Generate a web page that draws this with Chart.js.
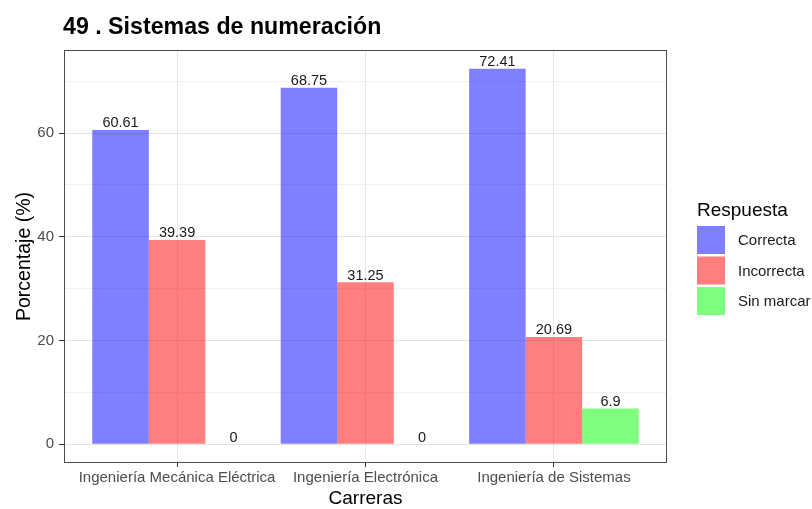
<!DOCTYPE html>
<html>
<head>
<meta charset="utf-8">
<script src="https://cdn.jsdelivr.net/npm/chart.js@4.4.1/dist/chart.umd.min.js"></script>
<style>
  body { margin: 0; background: #fff; }
  #wrap { width: 812px; height: 509px; }
</style>
</head>
<body>
<div id="wrap"><canvas id="chart" width="812" height="509"></canvas></div>
<script>
/* data */
const carreras = ['Ingeniería Mecánica Eléctrica', 'Ingeniería Electrónica', 'Ingeniería de Sistemas'];
const correcta = [60.61, 68.75, 72.41];
const incorrecta = [39.39, 31.25, 20.69];
const sinMarcar = [0, 0, 6.9];
const yTicks = [0, 10, 20, 30, 40, 50, 60, 70];

const FONT = "'Liberation Sans', Arial, sans-serif";

function points(values) {
    return values.map(function (v, i) { return { x: i + 1, y: v }; });
}

/* panel border, value labels, title and legend */
const extras = {
    id: 'extras',
    beforeDatasetsDraw: function (chart) {
        var a = chart.chartArea, ctx = chart.ctx;
        ctx.save();
        ctx.strokeStyle = '#4d4d4d';
        ctx.lineWidth = 1;
        ctx.strokeRect(a.left + 0.5, a.top + 0.5, a.right - a.left - 1, a.bottom - a.top - 1);
        ctx.restore();
    },
    afterDatasetsDraw: function (chart) {
        var ctx = chart.ctx;
        ctx.save();
        ctx.font = '14.5px ' + FONT;
        ctx.fillStyle = '#1a1a1a';
        ctx.textAlign = 'center';
        ctx.textBaseline = 'alphabetic';
        chart.data.datasets.forEach(function (ds, i) {
            chart.getDatasetMeta(i).data.forEach(function (bar, j) {
                ctx.fillText(String(ds.data[j].y), bar.x, bar.y - 2.5);
            });
        });

        // title
        var a = chart.chartArea;
        ctx.textAlign = 'left';
        ctx.fillStyle = '#000';
        ctx.font = 'bold 23.2px ' + FONT;
        ctx.fillText('49 . Sistemas de numeración', a.left - 1, 34);

        // legend
        ctx.font = '19px ' + FONT;
        ctx.fillText('Respuesta', 697, 216);
        ctx.font = '15px ' + FONT;
        ctx.textBaseline = 'middle';
        chart.data.datasets.forEach(function (ds, i) {
            var y = 226 + i * 30.5;
            ctx.fillStyle = ds.backgroundColor;
            ctx.fillRect(697, y, 28, 28);
            ctx.fillStyle = '#1a1a1a';
            ctx.fillText(ds.label, 738, y + 15);
        });
        ctx.restore();
    }
};

const ctx = document.getElementById('chart').getContext('2d');
const chart = new Chart(ctx, {
    type: 'bar',
    data: {
        datasets: [
            { label: 'Correcta', data: points(correcta), backgroundColor: 'rgba(0, 0, 255, 0.5)' },
            { label: 'Incorrecta', data: points(incorrecta), backgroundColor: 'rgba(255, 0, 0, 0.5)' },
            { label: 'Sin marcar', data: points(sinMarcar), backgroundColor: 'rgba(0, 255, 0, 0.5)' }
        ]
    },
    options: {
        responsive: false,
        animation: false,
        layout: { padding: { top: 50, right: 145, left: 0, bottom: 0 } },
        categoryPercentage: 0.9,
        barPercentage: 1,
        plugins: {
            legend: { display: false },
            tooltip: { enabled: false }
        },
        scales: {
            x: {
                type: 'linear',
                offset: false,
                min: 0.4,
                max: 3.6,
                afterBuildTicks: function (scale) {
                    scale.ticks = carreras.map(function (c, i) { return { value: i + 1 }; });
                },
                afterFit: function (scale) { scale.height = 46; },
                border: { display: false },
                grid: { offset: false, color: '#e6e6e6', tickLength: 4, tickColor: '#333' },
                ticks: {
                    autoSkip: false, maxRotation: 0, minRotation: 0, padding: 2,
                    color: '#4d4d4d', font: { family: FONT, size: 15 },
                    callback: function (v) { return carreras[v - 1]; }
                },
                title: {
                    display: true, text: 'Carreras', color: '#000',
                    font: { family: FONT, size: 19 }, padding: { top: 0, bottom: -1 }
                }
            },
            y: {
                min: -3.62,
                max: 76.03,
                afterBuildTicks: function (scale) {
                    scale.ticks = yTicks.map(function (v) { return { value: v }; });
                },
                afterFit: function (scale) { scale.width = 64; },
                border: { display: false },
                grid: {
                    tickLength: 5,
                    color: function (c) { return c.tick && c.tick.value % 20 === 0 ? '#e4e4e4' : '#f0f0f0'; },
                    tickColor: function (c) { return c.tick && c.tick.value % 20 === 0 ? '#333' : 'rgba(0,0,0,0)'; }
                },
                ticks: {
                    padding: 5, color: '#4d4d4d', font: { family: FONT, size: 15 },
                    callback: function (v) { return v % 20 === 0 ? v : ''; }
                },
                title: {
                    display: true, text: 'Porcentaje (%)', color: '#000',
                    font: { family: FONT, size: 19.5 }, padding: { top: 13, bottom: 0 }
                }
            }
        }
    },
    plugins: [extras]
});
</script>
</body>
</html>
